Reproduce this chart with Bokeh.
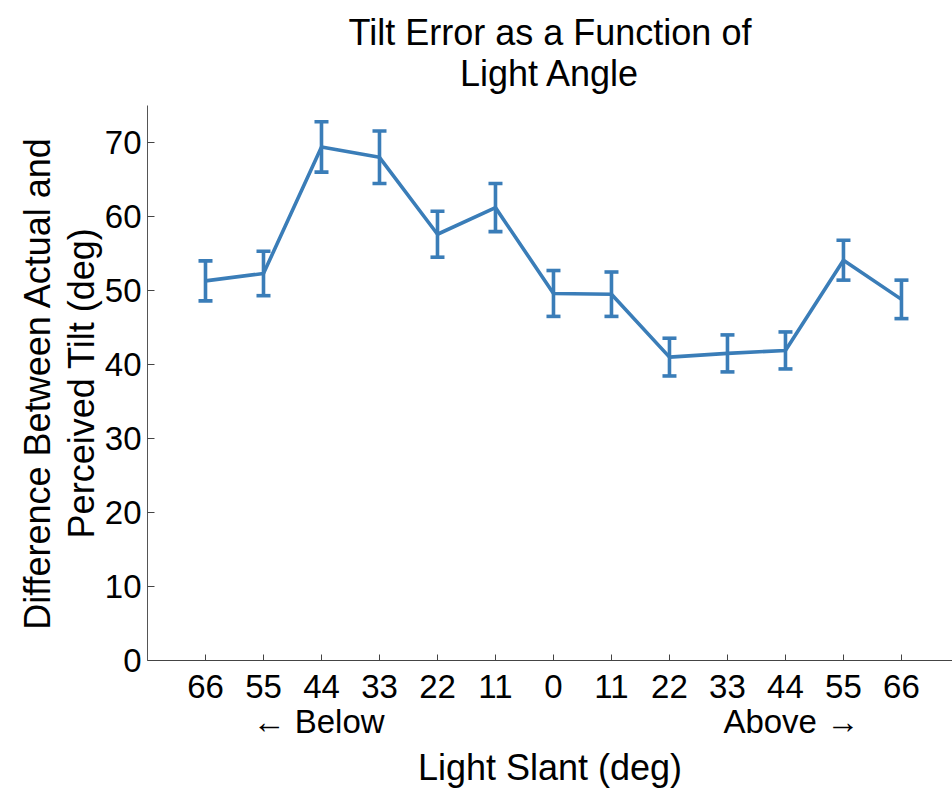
from bokeh.plotting import figure
from bokeh.models import FixedTicker, Whisker, TeeHead, ColumnDataSource, Range1d, LinearAxis, Title
from bokeh.embed import file_html
from bokeh.resources import INLINE

# data
slant_pos = [-6, -5, -4, -3, -2, -1, 0, 1, 2, 3, 4, 5, 6]
slant_labels = ["66", "55", "44", "33", "22", "11", "0", "11", "22", "33", "44", "55", "66"]
tilt_error = [51.3, 52.3, 69.4, 68.0, 57.6, 61.2, 49.6, 49.5, 41.0, 41.5, 41.9, 54.1, 48.8]
err = [2.7, 3.0, 3.4, 3.55, 3.1, 3.25, 3.1, 3.0, 2.55, 2.5, 2.5, 2.7, 2.6]
side_labels = ["\u2190 Below", "Above \u2192"]
side_pos = [-4.05, 4.1]
y_ticks = [0, 10, 20, 30, 40, 50, 60, 70]
title_lines = ["Tilt Error as a Function of", "Light Angle"]
ylabel_lines = ["Difference Between Actual and", "Perceived Tilt (deg)"]
xlabel = "Light Slant (deg)"

COLOR = "#3a7db8"
FONT = "Liberation Sans"
BIG = "36px"
TICK = "33px"
LW = 3.6

W, H = 952, 790
L, T, B = 147, 105, 129

src = ColumnDataSource(dict(
    x=slant_pos, y=tilt_error,
    lo=[v - e for v, e in zip(tilt_error, err)],
    hi=[v + e for v, e in zip(tilt_error, err)],
))

p = figure(width=W, height=H, output_backend="svg", toolbar_location=None, title=None,
           x_range=Range1d(-7, 6.88), y_range=Range1d(0, 75),
           min_border_left=L, min_border_right=0, min_border_top=T, min_border_bottom=B)
p.outline_line_color = None
p.xgrid.visible = False
p.ygrid.visible = False
p.background_fill_color = "white"
p.border_fill_color = "white"

p.line("x", "y", source=src, line_color=COLOR, line_width=LW)
w = Whisker(source=src, base="x", lower="lo", upper="hi", dimension="height",
            line_color=COLOR, line_width=LW,
            upper_head=TeeHead(size=14, line_color=COLOR, line_width=LW),
            lower_head=TeeHead(size=14, line_color=COLOR, line_width=LW))
p.add_layout(w)

xa = p.xaxis[0]
xa.ticker = FixedTicker(ticks=slant_pos)
xa.major_label_overrides = {k: v for k, v in zip(slant_pos, slant_labels)}
xa.major_tick_in = 6
xa.major_tick_out = 0
xa.minor_tick_line_color = None
xa.axis_line_color = "#444444"
xa.major_tick_line_color = "#444444"
xa.major_label_text_font = FONT
xa.major_label_text_font_size = TICK
xa.major_label_text_color = "black"
xa.major_label_standoff = 14

xa2 = LinearAxis(ticker=FixedTicker(ticks=side_pos),
                 major_label_overrides={k: v for k, v in zip(side_pos, side_labels)})
xa2.axis_line_color = None
xa2.major_tick_line_color = None
xa2.minor_tick_line_color = None
xa2.major_tick_in = 0
xa2.major_tick_out = 0
xa2.major_label_text_font = FONT
xa2.major_label_text_font_size = TICK
xa2.major_label_text_color = "black"
xa2.major_label_standoff = 2
xa2.axis_label = xlabel
xa2.axis_label_text_font = FONT
xa2.axis_label_text_font_size = BIG
xa2.axis_label_text_font_style = "normal"
xa2.axis_label_text_color = "black"
xa2.axis_label_standoff = 4
p.add_layout(xa2, "below")

ya = p.yaxis[0]
ya.ticker = FixedTicker(ticks=y_ticks)
ya.major_tick_in = 7
ya.major_tick_out = 0
ya.minor_tick_line_color = None
ya.axis_line_color = "#555555"
ya.major_tick_line_color = "#444444"
ya.major_label_text_font = FONT
ya.major_label_text_font_size = TICK
ya.major_label_text_color = "black"
ya.major_label_standoff = 6
ya.axis_label = ylabel_lines[1]
ya.axis_label_text_font = FONT
ya.axis_label_text_font_size = BIG
ya.axis_label_text_font_style = "normal"
ya.axis_label_text_color = "black"
ya.axis_label_standoff = 0

p.add_layout(Title(text=ylabel_lines[0], align="center", text_font=FONT, text_font_size=BIG,
                   text_font_style="normal", text_color="black", standoff=0), "left")

title_kw = dict(text="\n".join(title_lines), align="center", text_font=FONT, text_font_size=BIG,
                text_font_style="normal", text_color="black", standoff=20)
try:
    ttl = Title(text_align="center", text_baseline="top", vertical_align="top", **title_kw)
except Exception:
    try:
        ttl = Title(text_align="center", **title_kw)
    except Exception:
        ttl = Title(**title_kw)
p.add_layout(ttl, "above")

open("out.html", "w").write(file_html(p, INLINE))
